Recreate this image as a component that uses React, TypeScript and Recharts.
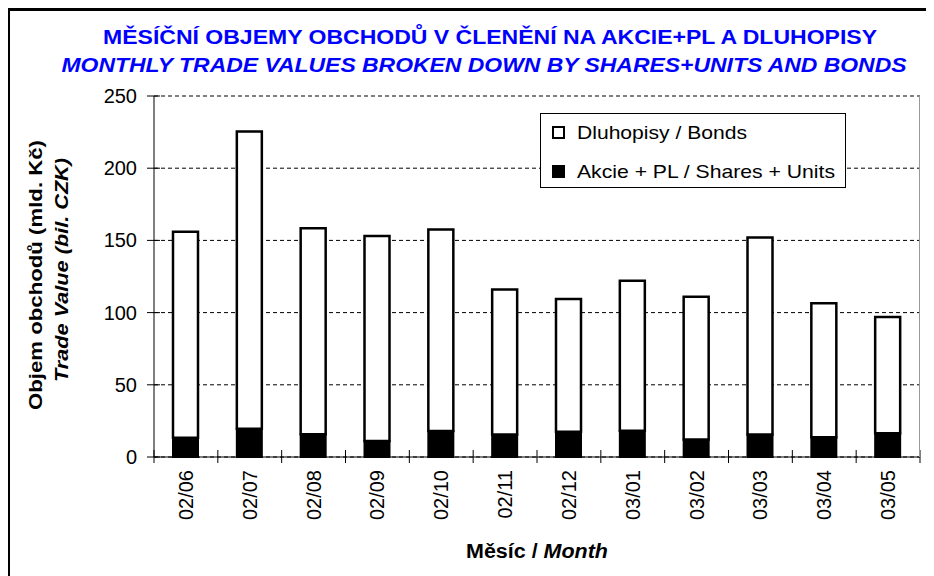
import React from 'react'
import { BarChart, Bar, XAxis, YAxis, CartesianGrid, Legend } from 'recharts'

const months = ['02/06', '02/07', '02/08', '02/09', '02/10', '02/11', '02/12', '03/01', '03/02', '03/03', '03/04', '03/05']
// Akcie + PL / Shares + Units (mld. Kč)
const shares = [13.4, 19.6, 15.7, 11.1, 18.0, 15.5, 17.5, 18.2, 12.2, 15.5, 13.6, 16.4]
// Dluhopisy / Bonds (mld. Kč)
const bonds = [142.6, 205.9, 142.8, 141.9, 139.5, 100.5, 92.0, 103.8, 98.8, 136.5, 92.9, 80.6]
const yTicks = [0, 50, 100, 150, 200, 250]
const legendLabels = ['Dluhopisy / Bonds', 'Akcie + PL / Shares + Units']

const data = months.map((month, i) => ({ month, shares: shares[i], bonds: bonds[i] }))

const FONT = '"Liberation Sans", Arial, sans-serif'
const W = 926
const H = 568
const PLOT = { left: 146, top: 88, right: 912, bottom: 449 }
const STEP = (PLOT.right - PLOT.left) / months.length

function MonthTick(props: any) {
  const { x, y, payload, index } = props
  const last = index === months.length - 1
  return (
    <g>
      <line x1={x - STEP / 2} x2={x - STEP / 2} y1={y - 7} y2={y + 6} stroke="#000" />
      {last && <line x1={x + STEP / 2} x2={x + STEP / 2} y1={y - 7} y2={y + 6} stroke="#000" />}
      <text
        transform={`translate(${x + 7},${y + 13}) rotate(-90)`}
        textAnchor="end"
        fontSize={20}
        fontFamily={FONT}
        fill="#000"
      >
        {payload.value}
      </text>
    </g>
  )
}

function ValueTick(props: any) {
  const { x, y, payload } = props
  return (
    <g>
      <line x1={x - 7} x2={x + 6} y1={y} y2={y} stroke="#000" />
      <text x={x - 17} y={y + 7} textAnchor="end" fontSize={20} fontFamily={FONT} fill="#000">
        {payload.value}
      </text>
    </g>
  )
}

function BoxLegend() {
  return (
    <svg width={306} height={75} style={{ display: 'block' }}>
      <rect x={0.5} y={0.5} width={305} height={74} fill="#fff" stroke="#000" />
      <rect x={13} y={14} width={11} height={11} fill="#fff" stroke="#000" strokeWidth={2} />
      <text x={37} y={26} fontSize={19} fontFamily={FONT} textLength={170} lengthAdjust="spacingAndGlyphs">
        {legendLabels[0]}
      </text>
      <rect x={12} y={52} width={13} height={13} fill="#000" />
      <text x={37} y={65} fontSize={19} fontFamily={FONT} textLength={258} lengthAdjust="spacingAndGlyphs">
        {legendLabels[1]}
      </text>
    </svg>
  )
}

export default function App() {
  return (
    <div style={{ position: 'relative', width: W, height: H, fontFamily: FONT, background: '#fff' }}>
      <BarChart
        width={W}
        height={H}
        data={data}
        margin={{ top: PLOT.top, right: W - PLOT.right, bottom: 0, left: 0 }}
        barCategoryGap={0}
      >
        <CartesianGrid horizontal vertical={false} stroke="#000" strokeDasharray="4 3" />
        <XAxis
          dataKey="month"
          height={H - PLOT.bottom}
          interval={0}
          tickSize={0}
          tickMargin={0}
          tickLine={false}
          axisLine={{ stroke: '#000' }}
          tick={<MonthTick />}
        />
        <YAxis
          width={PLOT.left}
          domain={[0, 250]}
          ticks={yTicks}
          tickSize={0}
          tickMargin={0}
          tickLine={false}
          axisLine={{ stroke: '#000' }}
          tick={<ValueTick />}
        />
        <Legend
          layout="horizontal"
          verticalAlign="middle"
          align="center"
          content={() => <BoxLegend />}
          wrapperStyle={{ left: 532, top: 105, width: 306, height: 75 }}
        />
        <Bar dataKey="shares" stackId="a" fill="#000" stroke="#000" strokeWidth={2} barSize={25} isAnimationActive={false} />
        <Bar dataKey="bonds" stackId="a" fill="#fff" stroke="#000" strokeWidth={2.5} barSize={25} isAnimationActive={false} />
      </BarChart>
      <svg
        width={W}
        height={H}
        style={{ position: 'absolute', left: 0, top: 0, overflow: 'visible', pointerEvents: 'none' }}
      >
        <line x1={0.5} x2={0.5} y1={0} y2={H + 10} stroke="#000" strokeWidth={3} />
        <line x1={-1} x2={W + 10} y1={1.5} y2={1.5} stroke="#000" strokeWidth={3} />
        <line x1={PLOT.right - 0.5} x2={PLOT.right - 0.5} y1={PLOT.top} y2={PLOT.bottom} stroke="#999" />
        <text x={482} y={36} textAnchor="middle" fill="#0000ff" fontWeight="bold" fontSize={20} textLength={774} lengthAdjust="spacingAndGlyphs">
          MĚSÍČNÍ OBJEMY OBCHODŮ V ČLENĚNÍ NA AKCIE+PL A DLUHOPISY
        </text>
        <text x={476} y={64} textAnchor="middle" fill="#0000ff" fontWeight="bold" fontStyle="italic" fontSize={20} textLength={845} lengthAdjust="spacingAndGlyphs">
          MONTHLY TRADE VALUES BROKEN DOWN BY SHARES+UNITS AND BONDS
        </text>
        <text transform="translate(34,267) rotate(-90)" textAnchor="middle" fontWeight="bold" fontSize={19} textLength={270} lengthAdjust="spacingAndGlyphs">
          Objem obchodů (mld. Kč)
        </text>
        <text transform="translate(60,262) rotate(-90)" textAnchor="middle" fontWeight="bold" fontStyle="italic" fontSize={19} textLength={224} lengthAdjust="spacingAndGlyphs">
          Trade Value (bil. CZK)
        </text>
        <text x={529} y={550} textAnchor="middle" fontWeight="bold" fontSize={20} textLength={142} lengthAdjust="spacingAndGlyphs">
          Měsíc / <tspan fontStyle="italic">Month</tspan>
        </text>
      </svg>
    </div>
  )
}
